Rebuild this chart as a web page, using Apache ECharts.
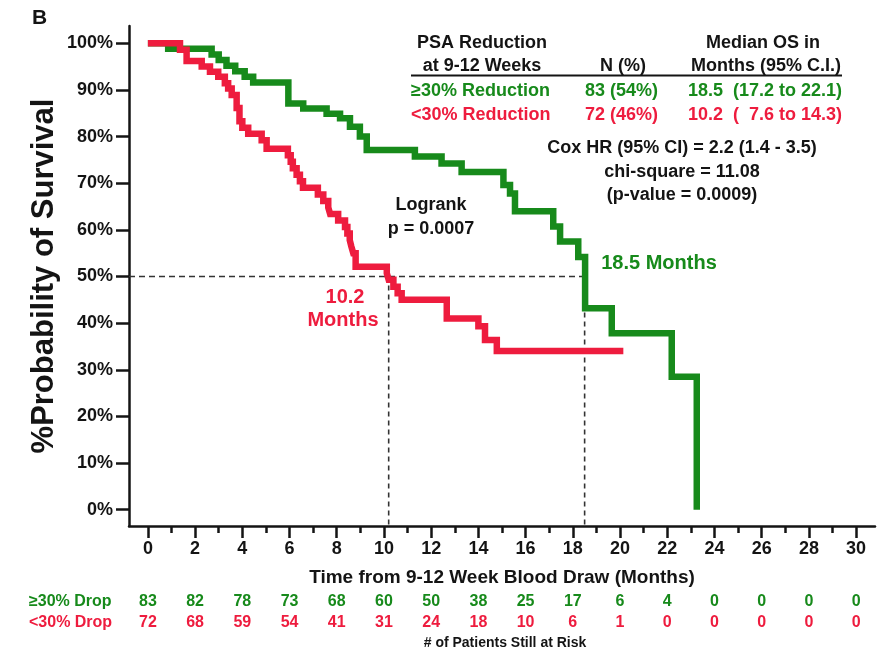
<!DOCTYPE html>
<html>
<head>
<meta charset="utf-8">
<script src="https://cdn.jsdelivr.net/npm/echarts@6/dist/echarts.min.js"></script>
<style>
  html, body { margin: 0; padding: 0; background: #ffffff; }
  #chart { width: 879px; height: 655px; }
</style>
</head>
<body>
<div id="chart"></div>
<script>
// Kaplan-Meier step points: time (months) and survival (%) after each event
const greenTime = [0, 0.86, 2.7, 3.0, 3.33, 3.7, 4.1, 4.46, 5.95, 6.58, 7.57, 8.14, 8.56, 8.98, 9.27,
  11.31, 12.44, 13.29, 15.06, 15.34, 15.55, 17.17, 17.46, 18.23, 18.52, 19.65, 22.19, 23.25];
const greenSurv = [100, 98.8, 97.6, 96.4, 95.2, 94.0, 92.8, 91.6, 87.1, 86.0, 84.9, 83.9, 82.1, 80.0, 77.1,
  75.7, 74.2, 72.4, 69.6, 67.8, 64.0, 60.7, 57.5, 54.2, 43.2, 37.8, 28.5, 0];

const redTime = [0, 1.36, 1.64, 2.28, 2.63, 2.98, 3.26, 3.40, 3.55, 3.76, 3.88, 4.0, 4.25, 4.82, 5.03,
  5.93, 6.05, 6.14, 6.3, 6.44, 6.57, 7.2, 7.43, 7.64, 7.72, 8.06, 8.35, 8.45, 8.55, 8.62, 8.7, 8.8,
  10.12, 10.2, 10.4, 10.58, 10.75, 12.66, 14.0, 14.28, 14.78, 20.14];
const redSurv = [100, 98.6, 96.2, 95.0, 93.9, 92.8, 91.4, 90.3, 88.9, 86.1, 83.3, 81.9, 80.6, 79.2, 77.4,
  76.0, 74.6, 73.2, 71.8, 70.4, 69.0, 67.6, 66.2, 64.8, 63.4, 62.0, 60.6, 59.2, 57.8, 56.4, 55.0, 52.1,
  50.7, 49.3, 47.8, 46.4, 45.0, 41.0, 39.3, 36.4, 34.0, 34.0];

// Median survival (months) and the 50% reference level
const medianGreen = 18.5;
const medianRed = 10.2;
const medianLevel = 50;

// Axis ticks
const xMajorTicks = [0, 2, 4, 6, 8, 10, 12, 14, 16, 18, 20, 22, 24, 26, 28, 30];
const xMinorTicks = [1, 3, 5, 7, 9, 11, 13, 15, 17, 19, 21, 23, 25, 27, 29];
const yTicks = [0, 10, 20, 30, 40, 50, 60, 70, 80, 90, 100];

// Numbers at risk at each major tick
const riskGreen = [83, 82, 78, 73, 68, 60, 50, 38, 25, 17, 6, 4, 0, 0, 0, 0];
const riskRed = [72, 68, 59, 54, 41, 31, 24, 18, 10, 6, 1, 0, 0, 0, 0, 0];

const FONT = '"Liberation Sans", Arial, Helvetica, sans-serif';
const GREEN = '#178a1b';
const RED = '#ee1c3e';
const INK = '#141414';
const X_MIN = -0.8, X_MAX = 30.8, Y_MIN = -3.5, Y_MAX = 103.7;

const zip = (a, b) => a.map((v, i) => [v, b[i]]);

const chart = echarts.init(document.getElementById('chart'), null, { renderer: 'canvas' });

const baseX = {
  type: 'value', min: X_MIN, max: X_MAX, position: 'bottom',
  splitLine: { show: false }
};

function riskAxis(values, color, offset) {
  return Object.assign({}, baseX, {
    offset: offset,
    axisLine: { show: false, onZero: false },
    axisTick: { show: false },
    axisLabel: {
      customValues: xMajorTicks,
      formatter: v => String(values[Math.round(v / 2)]),
      margin: 8, color: color, fontSize: 16, fontWeight: 'bold', fontFamily: FONT
    }
  });
}

function txt(text, x, y, opts) {
  opts = opts || {};
  const size = opts.size || 18;
  const align = opts.align || 'center';
  return {
    type: 'text', x: x, y: y, z: 10,
    style: {
      text: text,
      font: 'bold ' + size + 'px ' + FONT,
      fill: opts.color || INK,
      align: align, textAlign: align,
      verticalAlign: 'middle', textVerticalAlign: 'middle'
    }
  };
}

const option = {
  animation: false,
  backgroundColor: '#ffffff',
  grid: { left: 129, right: 4, top: 26, bottom: 129, containLabel: false, outerBoundsMode: 'none' },
  xAxis: [
    Object.assign({}, baseX, {
      axisLine: { show: true, onZero: false, lineStyle: { color: INK, width: 2.5 } },
      axisTick: { show: true, length: 12, customValues: xMajorTicks, lineStyle: { color: INK, width: 2.5 } },
      axisLabel: { customValues: xMajorTicks, margin: 14, color: INK, fontSize: 18, fontWeight: 'bold', fontFamily: FONT },
      name: 'Time from 9-12 Week Blood Draw (Months)',
      nameLocation: 'middle', nameGap: 42, nameMoveOverlap: false,
      nameTextStyle: { color: INK, fontSize: 19, fontWeight: 'bold', fontFamily: FONT }
    }),
    Object.assign({}, baseX, {
      axisLine: { show: false, onZero: false },
      axisTick: { show: true, length: 7, customValues: xMinorTicks, lineStyle: { color: INK, width: 2.5 } },
      axisLabel: { show: false }
    }),
    riskAxis(riskGreen, GREEN, 60),
    riskAxis(riskRed, RED, 81)
  ],
  yAxis: {
    type: 'value', min: Y_MIN, max: Y_MAX,
    axisLine: { show: true, onZero: false, lineStyle: { color: INK, width: 2.5 } },
    axisTick: { show: true, length: 13, customValues: yTicks, lineStyle: { color: INK, width: 2.5 } },
    axisLabel: { customValues: yTicks, formatter: v => v + '%', margin: 16, color: INK, fontSize: 18, fontWeight: 'bold', fontFamily: FONT },
    splitLine: { show: false },
    name: '%Probability of Survival',
    nameLocation: 'middle', nameGap: 69, nameMoveOverlap: false,
    nameTextStyle: { color: INK, fontSize: 31, fontWeight: 'bold', fontFamily: FONT }
  },
  series: [
    {
      type: 'line', symbol: 'none', silent: true, z: 1,
      data: [[X_MIN, medianLevel], [medianGreen, medianLevel]],
      lineStyle: { color: '#333', width: 1.6, type: [6, 4] }
    },
    {
      type: 'line', symbol: 'none', silent: true, z: 1,
      data: [[medianRed, medianLevel], [medianRed, Y_MIN]],
      lineStyle: { color: '#333', width: 1.6, type: [5, 4] }
    },
    {
      type: 'line', symbol: 'none', silent: true, z: 1,
      data: [[medianGreen, medianLevel], [medianGreen, Y_MIN]],
      lineStyle: { color: '#333', width: 1.6, type: [5, 4] }
    },
    {
      name: '>=30% Reduction', type: 'line', step: 'end', symbol: 'none', z: 3,
      data: zip(greenTime, greenSurv),
      lineStyle: { color: GREEN, width: 6.5, join: 'miter' }
    },
    {
      name: '<30% Reduction', type: 'line', step: 'end', symbol: 'none', z: 4,
      data: zip(redTime, redSurv),
      lineStyle: { color: RED, width: 6.5, join: 'miter' }
    }
  ],
  graphic: [
    txt('B', 32, 18, { size: 21, align: 'left' }),
    txt('PSA Reduction', 482, 43),
    txt('at 9-12 Weeks', 482, 66),
    txt('N (%)', 623, 66),
    txt('Median OS in', 763, 43),
    txt('Months (95% C.I.)', 766, 66),
    { type: 'line', z: 10, shape: { x1: 411, y1: 75.5, x2: 842, y2: 75.5 }, style: { stroke: INK, lineWidth: 2 } },
    txt('\u226530% Reduction', 411, 91, { align: 'left', color: GREEN }),
    txt('83 (54%)', 585, 91, { align: 'left', color: GREEN }),
    txt('18.5  (17.2 to 22.1)', 842, 91, { align: 'right', color: GREEN }),
    txt('<30% Reduction', 411, 115, { align: 'left', color: RED }),
    txt('72 (46%)', 585, 115, { align: 'left', color: RED }),
    txt('10.2  (  7.6 to 14.3)', 842, 115, { align: 'right', color: RED }),
    txt('Cox HR (95% CI) = 2.2 (1.4 - 3.5)', 682, 148),
    txt('chi-square = 11.08', 682, 172),
    txt('(p-value = 0.0009)', 682, 195),
    txt('Logrank', 431, 205),
    txt('p = 0.0007', 431, 229),
    txt('18.5 Months', 659, 263, { size: 20, color: GREEN }),
    txt('10.2', 345, 297, { size: 20, color: RED }),
    txt('Months', 343, 320, { size: 20, color: RED }),
    txt('\u226530% Drop', 29, 602, { size: 16, align: 'left', color: GREEN }),
    txt('<30% Drop', 29, 623, { size: 16, align: 'left', color: RED }),
    txt('# of Patients Still at Risk', 505, 643, { size: 14 })
  ]
};

chart.setOption(option);
</script>
</body>
</html>
